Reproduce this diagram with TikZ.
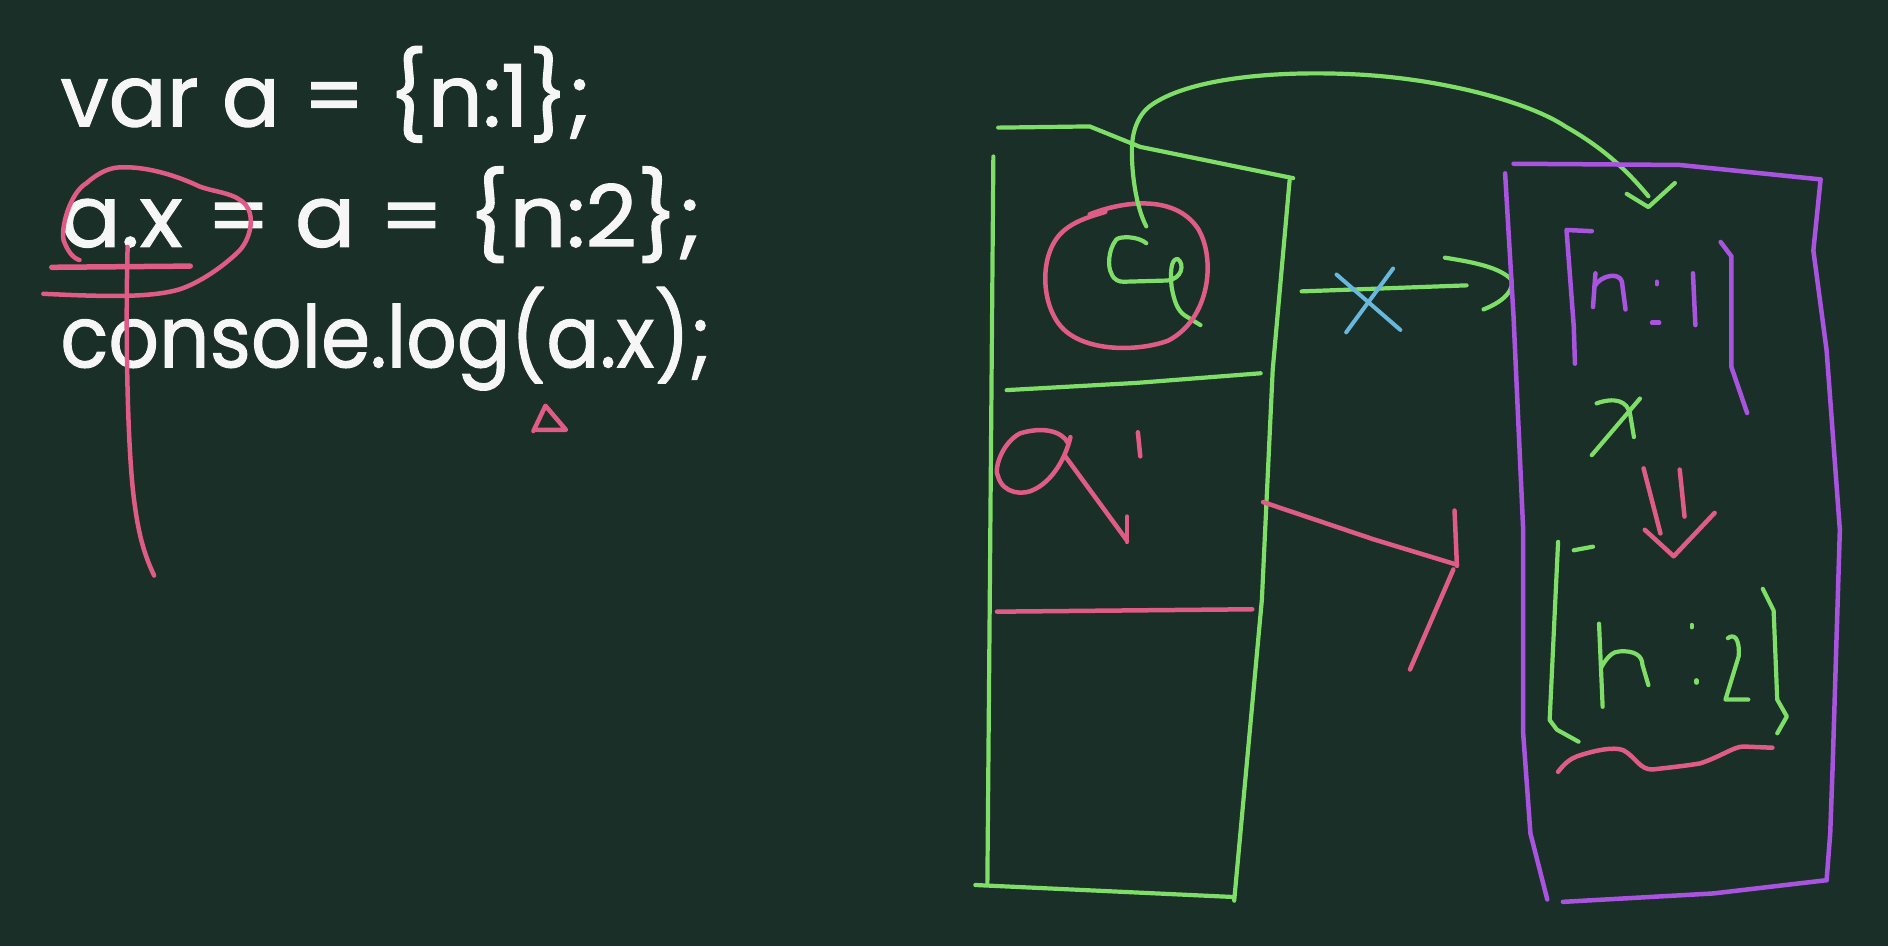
\documentclass[tikz,border=0pt]{standalone}
\usepackage{fontspec}
\setmainfont{Poppins}
\newfontfamily\codefont[FakeBold=1.2]{Poppins}
\definecolor{board}{RGB}{26,47,39}
\definecolor{chalkgreen}{RGB}{126,222,104}
\definecolor{chalkpink}{RGB}{222,92,134}
\definecolor{chalkpurple}{RGB}{168,84,222}
\definecolor{chalkcyan}{RGB}{104,184,222}
\definecolor{chalkwhite}{RGB}{246,246,246}
\tikzset{
  gline/.style={draw=chalkgreen,line width=4.2pt,line cap=round,line join=round},
  pline/.style={draw=chalkpink,line width=4.5pt,line cap=round,line join=round},
  vline/.style={draw=chalkpurple,line width=4.5pt,line cap=round,line join=round},
  cline/.style={draw=chalkcyan,line width=4pt,line cap=round},
  codetext/.style={anchor=base west,inner sep=0pt,text=chalkwhite,font=\codefont\fontsize{86}{96}\selectfont}
}
\begin{document}
\begin{tikzpicture}[x=1.204pt,y=-1.204pt]
\fill[board] (0,0) rectangle (1568,786);
\useasboundingbox (0,0) rectangle (1568,786);

% code
\node[codetext] (l1) at (50,105) {var a = \{n:1\};};
\node[codetext,xscale=1.04] (l2) at (50,205) {a.x = a = \{n:2\};};
\node[codetext,xscale=0.92] (l3) at (50,305) {console.log(a.x);};

% pink annotations on code
\draw[pline] (53,200) .. controls (50,190) and (58,160) .. (72,152)
  .. controls (82,143) and (92,139) .. (100,139)
  .. controls (120,138) and (145,145) .. (166,155)
  .. controls (180,160) and (195,160) .. (204,170)
  .. controls (212,180) and (208,198) .. (199,208)
  .. controls (185,222) and (165,235) .. (150,240)
  .. controls (125,248) and (80,246) .. (36,244);
\draw[pline] (53,200) .. controls (56,208) and (60,214) .. (66,216);
\draw[pline,line width=5.5pt] (43,222) -- (158,221);
\draw[pline] (106,205) .. controls (104,280) and (106,380) .. (112,420) .. controls (116,450) and (122,465) .. (128,478);
\draw[pline] (443,358) -- (453,337) -- (470,357) -- (446,357);

% stack box
\draw[gline] (829,106) -- (905,105) -- (947,122) -- (1074,148);
\draw[gline] (1071,150) -- (1057,307) -- (1048,498) -- (1025,748);
\draw[gline] (825,130) -- (822,498) -- (820,735);
\draw[gline] (810,735) -- (1025,745);
\draw[gline] (836,324) -- (944,318) -- (1047,310);
\draw[pline] (828,508) -- (1040,506);

% cell a (green a + pink circle)
\draw[gline] (952,202) .. controls (945,196) and (930,196) .. (927,199)
  .. controls (920,208) and (920,222) .. (923,227)
  .. controls (925,233) and (930,234) .. (933,234)
  -- (969,233) .. controls (982,232) and (984,219) .. (978,215)
  .. controls (972,215) and (972,228) .. (973,238)
  .. controls (975,250) and (978,258) .. (984,262) -- (997,270);
\draw[pline] (905,178) .. controls (930,168) and (975,160) .. (995,190)
  .. controls (1010,215) and (1005,265) .. (970,283)
  .. controls (945,292) and (905,292) .. (885,275)
  .. controls (865,258) and (862,215) .. (880,195)
  .. controls (890,184) and (905,180) .. (918,176);

% green reference curve from a to heap object
\draw[gline] (952,188) .. controls (945,175) and (940,150) .. (940,125)
  .. controls (940,105) and (948,92) .. (958,86)
  .. controls (990,65) and (1060,58) .. (1130,62)
  .. controls (1200,66) and (1270,85) .. (1300,105)
  .. controls (1330,122) and (1350,140) .. (1369,163);
\draw[gline] (1351,161) -- (1369,172) -- (1391,152);

% green arrow to {n:1} crossed out
\draw[gline] (1081,242) -- (1218,237);
\draw[gline] (1200,214) .. controls (1225,218) and (1245,222) .. (1255,232)
  .. controls (1258,240) and (1250,250) .. (1232,257);
\draw[cline] (1110,228) -- (1163,274);
\draw[cline] (1157,223) -- (1118,276);

% cell a' (pink)
\draw[pline] (887,368) .. controls (882,358) and (866,354) .. (847,360)
  .. controls (832,368) and (825,390) .. (829,396)
  .. controls (833,410) and (850,412) .. (860,406)
  .. controls (875,398) and (885,380) .. (889,363);
\draw[pline] (884,378) -- (936,449);
\draw[pline] (936,429) -- (936,450);
\draw[pline] (945,359) -- (947,379);

% pink arrow from a to new object
\draw[pline] (1049,417) -- (1141,448) -- (1210,469);
\draw[pline] (1208,424) -- (1210,470);
\draw[pline] (1207,473) -- (1171,556);

% heap box (purple)
\draw[vline] (1257,136) -- (1395,137) -- (1512,149);
\draw[vline] (1250,144) -- (1257,263) -- (1265,440) -- (1265,609) -- (1271,692) -- (1285,747);
\draw[vline] (1512,149) -- (1506,208) -- (1517,291) -- (1528,440) -- (1522,637) -- (1520,692) -- (1517,731);
\draw[vline] (1298,749) -- (1423,742) -- (1517,731);

% {n:1}
\draw[vline] (1322,192) -- (1301,191) -- (1307,271) -- (1308,302);
\draw[vline] (1325,227) -- (1323,255);
\draw[vline] (1324,238) .. controls (1330,228) and (1345,226) .. (1347,234) -- (1350,257);
\draw[vline] (1376,234) -- (1376,236);
\draw[vline] (1372,268) -- (1378,268);
\draw[vline] (1406,227) -- (1408,270);
\draw[vline] (1429,201) -- (1438,213) -- (1438,305) -- (1451,343);

% x
\draw[gline] (1326,335) .. controls (1340,330) and (1352,332) .. (1354,345) -- (1357,363);
\draw[gline] (1362,331) -- (1322,378);

% double arrow
\draw[pline] (1365,389) -- (1379,443);
\draw[pline] (1395,390) -- (1399,429);
\draw[pline] (1366,440) -- (1390,462) -- (1424,426);

% {n:2}
\draw[gline] (1294,450) -- (1287,598) -- (1293,606) -- (1311,616);
\draw[gline] (1307,457) -- (1323,454);
\draw[gline] (1328,518) -- (1331,587);
\draw[gline] (1330,554) .. controls (1335,545) and (1340,541) .. (1345,541)
  .. controls (1358,540) and (1364,545) .. (1364,552) -- (1369,569);
\draw[gline] (1405,519) -- (1405,521);
\draw[gline] (1409,565) -- (1409,567);
\draw[gline] (1435,530) .. controls (1440,526) and (1445,530) .. (1444,545)
  -- (1433,581) -- (1452,581);
\draw[gline] (1464,489) -- (1473,507) -- (1476,581) -- (1484,595) -- (1476,609);

% pink squiggle underline
\draw[pline] (1294,641) .. controls (1300,633) and (1305,630) .. (1310,628)
  .. controls (1325,623) and (1340,620) .. (1348,623)
  .. controls (1358,628) and (1362,640) .. (1373,639)
  .. controls (1390,637) and (1400,636) .. (1412,634)
  .. controls (1430,628) and (1440,620) .. (1448,620) -- (1472,621);
\end{tikzpicture}
\end{document}
